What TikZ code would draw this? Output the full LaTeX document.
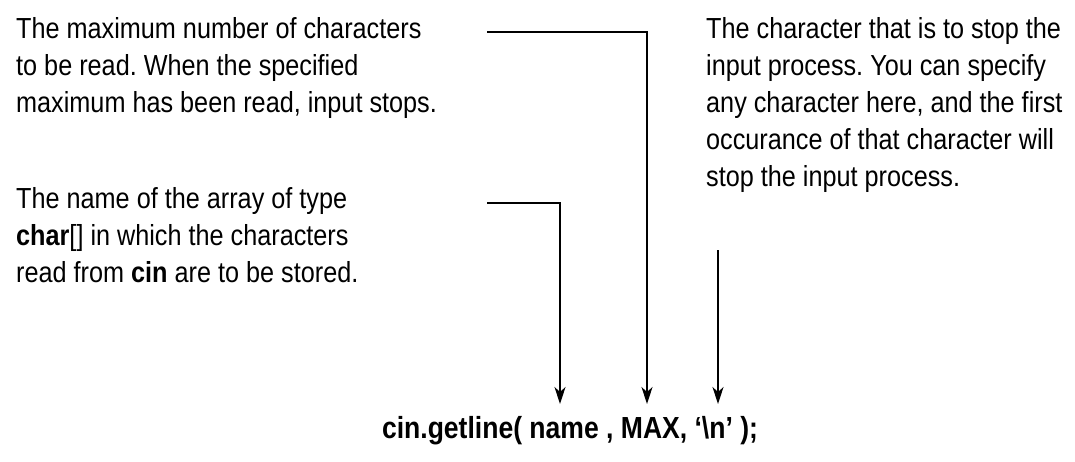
\documentclass[tikz,border=0pt]{standalone}
\usepackage{fontspec}
\setmainfont{Liberation Sans}[FakeStretch=0.87]
\usetikzlibrary{arrows.meta}
\frenchspacing
\begin{document}
\begin{tikzpicture}[x=1pt,y=1pt,
  desc/.style={anchor=north west,inner sep=0pt,align=left,font=\fontsize{29}{37}\selectfont},
  conn/.style={line width=1.5pt,-{Stealth[length=17pt,width=11pt,inset=5pt]}}]
\useasboundingbox (0,0) rectangle (1075,-462);
\node[desc] (maxd) at (16,-17) {The maximum number of characters\\to be read. When the specified\\maximum has been read, input stops.};
\node[desc] (stopd) at (706,-17) {The character that is to stop the\\input process. You can specify\\any character here, and the first\\occurance of that character will\\stop the input process.};
\node[desc] (named) at (16,-187) {The name of the array of type\\\textbf{char}[] in which the characters\\read from \textbf{cin} are to be stored.};
\node[anchor=base,inner sep=0pt,font=\fontsize{30.5}{36}\selectfont\bfseries] (code) at (570,-438) {cin.getline( name , MAX, `\textbackslash n' );};
\coordinate (s1) at (487,-32);
\coordinate (s2) at (487,-203);
\coordinate (s3) at (718,-250);
\coordinate (t1) at (647,-404);
\coordinate (t2) at (560,-404);
\coordinate (t3) at (718,-404);
\draw[conn] (s1) -| (t1);
\draw[conn] (s2) -| (t2);
\draw[conn] (s3) -- (t3);
\end{tikzpicture}
\end{document}
